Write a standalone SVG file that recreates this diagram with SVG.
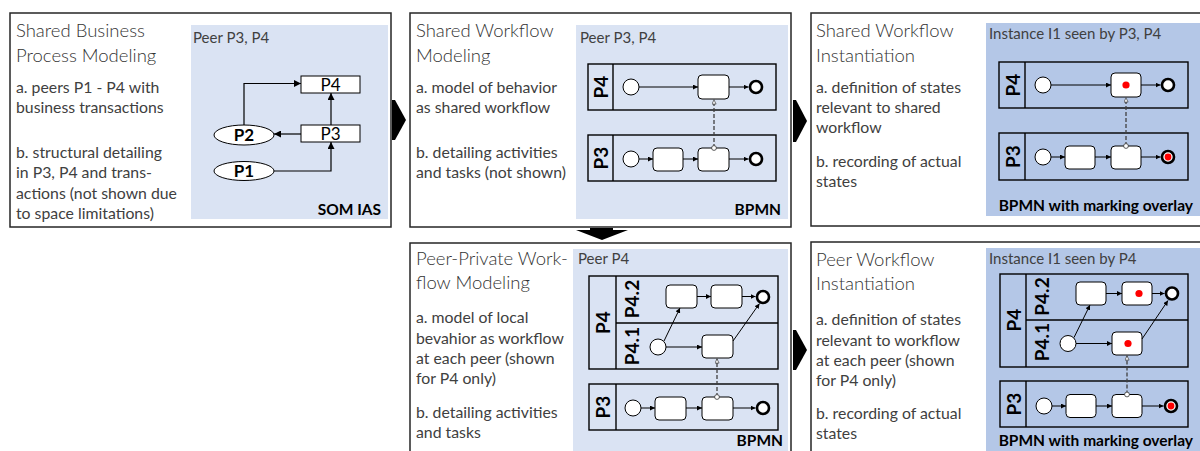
<svg xmlns="http://www.w3.org/2000/svg" width="1200" height="451" viewBox="0 0 1200 451">
<style>
.frame{fill:#fff;stroke:#262626;stroke-width:1.5}
.lb{fill:#dae3f3}
.db{fill:#b4c7e7}
.t{font-family:Lato,"Liberation Sans",sans-serif;font-weight:300;font-size:18.5px;fill:#333}
.b{font-family:Lato,"Liberation Sans",sans-serif;font-size:15.8px;fill:#404040}
.h{font-family:Lato,"Liberation Sans",sans-serif;font-size:15px;fill:#404040}
.k{font-family:Lato,"Liberation Sans",sans-serif;font-weight:bold;font-size:15.5px;fill:#000}
.n{font-family:Lato,"Liberation Sans",sans-serif;font-size:17px;fill:#000;text-anchor:middle}
.nb{font-family:Lato,"Liberation Sans",sans-serif;font-weight:bold;font-size:17px;fill:#000;text-anchor:middle}
.pl{font-family:Lato,"Liberation Sans",sans-serif;font-weight:bold;font-size:19px;fill:#000;text-anchor:middle;dominant-baseline:central}
.pool{fill:none;stroke:#000;stroke-width:1.4}
.task{fill:#fff;stroke:#000;stroke-width:1}
.st{fill:#fff;stroke:#000;stroke-width:1}
.en{fill:#fff;stroke:#000;stroke-width:2.6}
.sf{fill:none;stroke:#000;stroke-width:1;marker-end:url(#ah)}
.som{fill:none;stroke:#000;stroke-width:1.2;marker-end:url(#ahL)}
.mf{fill:none;stroke:#404040;stroke-width:1.3;stroke-dasharray:4,2;marker-start:url(#mfs);marker-end:url(#mfe)}
.dot{fill:#f00}
.big{fill:#000}
</style>
<defs>
<marker id="ah" viewBox="0 0 6 6" refX="6" refY="3" markerWidth="5" markerHeight="5" markerUnits="userSpaceOnUse" orient="auto"><path d="M0,0L6,3L0,6z" fill="#000"/></marker>
<marker id="ahL" viewBox="0 0 8 8" refX="8" refY="4" markerWidth="8" markerHeight="7" markerUnits="userSpaceOnUse" orient="auto"><path d="M0,0L8,4L0,8z" fill="#000"/></marker>
<marker id="mfe" viewBox="0 0 6 6" refX="6" refY="3" markerWidth="5" markerHeight="5" markerUnits="userSpaceOnUse" orient="auto"><path d="M0.5,0.5L5.5,3L0.5,5.5z" fill="#fff" stroke="#333" stroke-width="0.8"/></marker>
<marker id="mfs" viewBox="0 0 6 6" refX="3" refY="3" markerWidth="6" markerHeight="6" markerUnits="userSpaceOnUse" orient="auto"><circle cx="3" cy="3" r="2.4" fill="#fff" stroke="#333" stroke-width="0.8"/></marker>
</defs>

<g id="panel-shared-business">
<rect class="frame" x="10" y="13" width="381" height="214"/>
<rect class="lb" x="191" y="25" width="197" height="194"/>
<text class="t" x="16" y="37">Shared Business</text>
<text class="t" x="16" y="62">Process Modeling</text>
<text class="b" x="16" y="93">a. peers P1 - P4 with</text>
<text class="b" x="16" y="113">business transactions</text>
<text class="b" x="16" y="158">b. structural detailing</text>
<text class="b" x="16" y="178">in P3, P4 and trans-</text>
<text class="b" x="16" y="199">actions (not shown due</text>
<text class="b" x="16" y="219">to space limitations)</text>
<text class="h" x="193" y="43">Peer P3, P4</text>
<text class="k" x="381" y="215" text-anchor="end">SOM IAS</text>
<g id="som-P4"><rect class="task" x="301" y="76" width="59" height="17"/><text class="n" x="330.5" y="90.5">P4</text></g>
<g id="som-P3"><rect class="task" x="301" y="125" width="59" height="17"/><text class="n" x="330.5" y="139.5">P3</text></g>
<g id="som-P2"><ellipse class="st" cx="244" cy="135" rx="30" ry="10"/><text class="nb" x="244" y="141">P2</text></g>
<g id="som-P1"><ellipse class="st" cx="244" cy="171" rx="30" ry="9.5"/><text class="nb" x="244" y="177">P1</text></g>
<g id="som-connectors">
<path class="som" d="M244,125V83.5H301"/>
<path class="som" d="M301,134H274"/>
<path class="som" d="M331,125V93"/>
<path class="som" d="M274,171H331V142"/>
</g>
</g>

<g id="panel-shared-workflow">
<rect class="frame" x="410" y="13" width="381" height="214"/>
<rect class="lb" x="576" y="25" width="212" height="194"/>
<text class="t" x="416" y="37">Shared Workflow</text>
<text class="t" x="416" y="62">Modeling</text>
<text class="b" x="416" y="93">a. model of behavior</text>
<text class="b" x="416" y="113">as shared workflow</text>
<text class="b" x="416" y="158">b. detailing activities</text>
<text class="b" x="416" y="178">and tasks (not shown)</text>
<text class="h" x="580" y="43">Peer P3, P4</text>
<text class="k" x="781" y="215" text-anchor="end">BPMN</text>
<g id="sw-pool-P4"><rect class="pool" x="588" y="64" width="188" height="46"/><line class="pool" x1="613" y1="64" x2="613" y2="110"/><text class="pl" transform="translate(600.5,87) rotate(-90)">P4</text></g>
<g id="sw-pool-P3"><rect class="pool" x="588" y="135" width="188" height="46"/><line class="pool" x1="613" y1="135" x2="613" y2="181"/><text class="pl" transform="translate(600.5,158) rotate(-90)">P3</text></g>
<g id="sw-nodes">
<circle class="st" cx="631" cy="87" r="8"/>
<rect class="task" x="698" y="75" width="31" height="24" rx="4"/>
<circle class="en" cx="756" cy="87" r="6"/>
<circle class="st" cx="631" cy="159" r="8"/>
<rect class="task" x="653" y="148" width="30" height="23" rx="4"/>
<rect class="task" x="698" y="148" width="31" height="23" rx="4"/>
<circle class="en" cx="756" cy="159" r="6"/>
</g>
<g id="sw-connectors">
<path class="sf" d="M639,87H698"/>
<path class="sf" d="M729,87H748.5"/>
<path class="sf" d="M639,159H653"/>
<path class="sf" d="M683,159H698"/>
<path class="sf" d="M729,159H748.5"/>
<path class="mf" d="M714,148V99.5"/>
</g>
</g>

<g id="panel-shared-instantiation">
<rect class="frame" x="811" y="13" width="400" height="213"/>
<rect class="db" x="986" y="23" width="220" height="193"/>
<text class="t" x="816" y="37">Shared Workflow</text>
<text class="t" x="816" y="62">Instantiation</text>
<text class="b" x="816" y="93">a. definition of states</text>
<text class="b" x="816" y="113">relevant to shared</text>
<text class="b" x="816" y="133">workflow</text>
<text class="b" x="816" y="167">b. recording of actual</text>
<text class="b" x="816" y="187">states</text>
<text class="h" x="989" y="39">Instance I1 seen by P3, P4</text>
<text class="k" x="1193" y="211" text-anchor="end">BPMN with marking overlay</text>
<g id="si-pool-P4"><rect class="pool" x="999" y="62" width="189" height="46"/><line class="pool" x1="1025" y1="62" x2="1025" y2="108"/><text class="pl" transform="translate(1012,85) rotate(-90)">P4</text></g>
<g id="si-pool-P3"><rect class="pool" x="999" y="133" width="189" height="47"/><line class="pool" x1="1025" y1="133" x2="1025" y2="180"/><text class="pl" transform="translate(1012,156.5) rotate(-90)">P3</text></g>
<g id="si-nodes">
<circle class="st" cx="1043" cy="85" r="8"/>
<rect class="task" x="1111" y="73" width="30" height="24" rx="4"/>
<circle class="dot" cx="1126" cy="85" r="3.6"/>
<circle class="en" cx="1168" cy="85" r="6"/>
<circle class="st" cx="1043" cy="157" r="8"/>
<rect class="task" x="1065" y="146" width="30" height="23" rx="4"/>
<rect class="task" x="1111" y="146" width="30" height="23" rx="4"/>
<circle class="en" cx="1168" cy="157" r="6"/>
<circle class="dot" cx="1168" cy="157" r="3.4"/>
</g>
<g id="si-connectors">
<path class="sf" d="M1051,85H1111"/>
<path class="sf" d="M1141,85H1160.5"/>
<path class="sf" d="M1051,157H1065"/>
<path class="sf" d="M1095,157H1111"/>
<path class="sf" d="M1141,157H1160.5"/>
<path class="mf" d="M1126,146V97.5"/>
</g>
</g>

<g id="panel-private-workflow">
<rect class="frame" x="410" y="243" width="381" height="220"/>
<rect class="lb" x="573" y="249" width="215" height="210"/>
<text class="t" x="416" y="265">Peer-Private Work-</text>
<text class="t" x="416" y="289">flow Modeling</text>
<text class="b" x="416" y="323">a. model of local</text>
<text class="b" x="416" y="344">bevahior as workflow</text>
<text class="b" x="416" y="364">at each peer (shown</text>
<text class="b" x="416" y="384">for P4 only)</text>
<text class="b" x="416" y="418">b. detailing activities</text>
<text class="b" x="416" y="438">and tasks</text>
<text class="h" x="578" y="264">Peer P4</text>
<text class="k" x="783" y="446" text-anchor="end">BPMN</text>
<g id="pp-pool-P4"><rect class="pool" x="589" y="276" width="189" height="93"/><line class="pool" x1="616" y1="276" x2="616" y2="369"/><line class="pool" x1="616" y1="323" x2="778" y2="323"/>
<text class="pl" transform="translate(602.5,322.5) rotate(-90)">P4</text>
<text class="pl" transform="translate(631,299) rotate(-90)">P4.2</text>
<text class="pl" transform="translate(631,346) rotate(-90)">P4.1</text></g>
<g id="pp-pool-P3"><rect class="pool" x="589" y="384" width="189" height="46"/><line class="pool" x1="616" y1="384" x2="616" y2="430"/><text class="pl" transform="translate(602.5,407) rotate(-90)">P3</text></g>
<g id="pp-nodes">
<rect class="task" x="666" y="285" width="31" height="23" rx="4"/>
<rect class="task" x="711" y="285" width="31" height="23" rx="4"/>
<circle class="en" cx="763" cy="297" r="6"/>
<circle class="st" cx="658" cy="347" r="8"/>
<rect class="task" x="702" y="335" width="31" height="23" rx="4"/>
<circle class="st" cx="633" cy="408" r="8"/>
<rect class="task" x="655" y="397" width="31" height="23" rx="4"/>
<rect class="task" x="702" y="397" width="31" height="23" rx="4"/>
<circle class="en" cx="763" cy="408" r="6"/>
</g>
<g id="pp-connectors">
<path class="sf" d="M697,296.5H711"/>
<path class="sf" d="M742,296.5H755.5"/>
<path class="sf" d="M664,341L680,308"/>
<path class="sf" d="M666,347H702"/>
<path class="sf" d="M733,341L759.5,303.5"/>
<path class="sf" d="M641,408H655"/>
<path class="sf" d="M686,408H702"/>
<path class="sf" d="M733,408H755.5"/>
<path class="mf" d="M717,397V358.5"/>
</g>
</g>

<g id="panel-peer-instantiation">
<rect class="frame" x="811" y="242" width="400" height="220"/>
<rect class="db" x="986" y="248" width="220" height="210"/>
<text class="t" x="816" y="266">Peer Workflow</text>
<text class="t" x="816" y="290">Instantiation</text>
<text class="b" x="816" y="325">a. definition of states</text>
<text class="b" x="816" y="346">relevant to workflow</text>
<text class="b" x="816" y="366">at each peer (shown</text>
<text class="b" x="816" y="386">for P4 only)</text>
<text class="b" x="816" y="419">b. recording of actual</text>
<text class="b" x="816" y="439">states</text>
<text class="h" x="989" y="264">Instance I1 seen by P4</text>
<text class="k" x="1193" y="446" text-anchor="end">BPMN with marking overlay</text>
<g id="pi-pool-P4"><rect class="pool" x="1000" y="274" width="188" height="93"/><line class="pool" x1="1026" y1="274" x2="1026" y2="367"/><line class="pool" x1="1026" y1="320" x2="1188" y2="320"/>
<text class="pl" transform="translate(1013,320) rotate(-90)">P4</text>
<text class="pl" transform="translate(1041,296.5) rotate(-90)">P4.2</text>
<text class="pl" transform="translate(1041,342) rotate(-90)">P4.1</text></g>
<g id="pi-pool-P3"><rect class="pool" x="1000" y="381" width="188" height="46"/><line class="pool" x1="1026" y1="381" x2="1026" y2="427"/><text class="pl" transform="translate(1013,404) rotate(-90)">P3</text></g>
<g id="pi-nodes">
<rect class="task" x="1076" y="282" width="30" height="23" rx="4"/>
<rect class="task" x="1122" y="282" width="30" height="23" rx="4"/>
<circle class="dot" cx="1139" cy="293.5" r="3.6"/>
<circle class="en" cx="1172" cy="293.5" r="6"/>
<circle class="st" cx="1068" cy="343.5" r="8"/>
<rect class="task" x="1112" y="332" width="30" height="23" rx="4"/>
<circle class="dot" cx="1128" cy="343.5" r="3.6"/>
<circle class="st" cx="1044" cy="406" r="8"/>
<rect class="task" x="1066" y="394.5" width="30" height="23" rx="4"/>
<rect class="task" x="1112" y="394.5" width="30" height="23" rx="4"/>
<circle class="en" cx="1171" cy="406" r="6"/>
<circle class="dot" cx="1171" cy="406" r="3.4"/>
</g>
<g id="pi-connectors">
<path class="sf" d="M1106,293.5H1122"/>
<path class="sf" d="M1152,293.5H1164.5"/>
<path class="sf" d="M1074,337.5L1090,305"/>
<path class="sf" d="M1076,343.5H1112"/>
<path class="sf" d="M1142,339L1168,300.5"/>
<path class="sf" d="M1052,406H1066"/>
<path class="sf" d="M1096,406H1112"/>
<path class="sf" d="M1142,406H1163.5"/>
<path class="mf" d="M1127,394.5V355.5"/>
</g>
</g>

<g id="connectors">
<polygon class="big" points="392,100 395,100 406,120 395,140 392,140"/>
<polygon class="big" points="793,100 796,100 807,121 796,142 793,142"/>
<polygon class="big" points="793,330 796,330 807,350 796,370 793,370"/>
<polygon class="big" points="590,228 613,228 613,230 628,230 602,240 576,230 590,230"/>
</g>
</svg>
